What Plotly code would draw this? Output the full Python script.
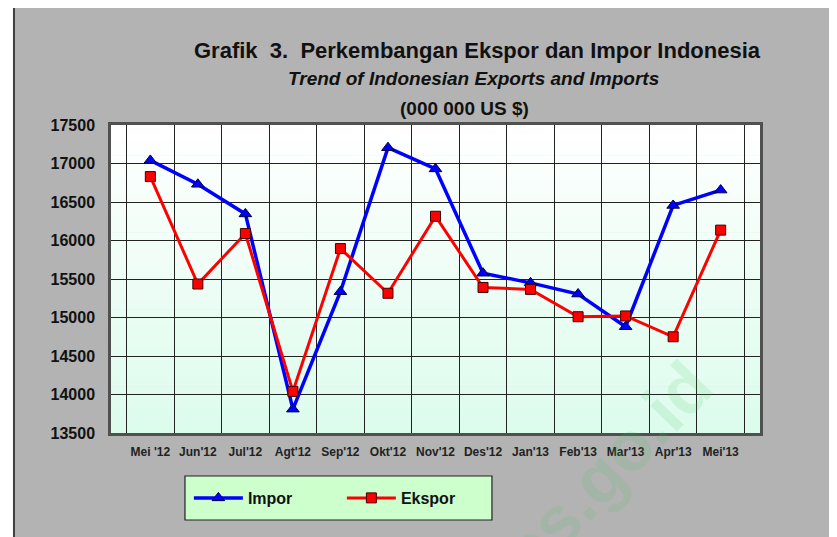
import plotly.graph_objects as go

months = ["Mei '12", "Jun'12", "Jul'12", "Agt'12", "Sep'12", "Okt'12", "Nov'12",
          "Des'12", "Jan'13", "Feb'13", "Mar'13", "Apr'13", "Mei'13"]
impor = [17040, 16730, 16345, 13810, 15335, 17205, 16930,
         15575, 15450, 15305, 14880, 16455, 16655]
ekspor = [16830, 15435, 16090, 14040, 15895, 15315, 16315,
          15390, 15365, 15010, 15020, 14750, 16135]

FONT = "Liberation Sans, Arial, sans-serif"

fig = go.Figure()
fig.add_trace(go.Scatter(
    x=months, y=impor, name="<b>Impor</b>", mode="lines+markers",
    line=dict(color="#0000ff", width=3.5),
    marker=dict(symbol="triangle-up", size=11, color="#0000ff",
                line=dict(color="#000040", width=1))))
fig.add_trace(go.Scatter(
    x=months, y=ekspor, name="<b>Ekspor</b>", mode="lines+markers",
    line=dict(color="#ff0000", width=3),
    marker=dict(symbol="square", size=10, color="#ff0000",
                line=dict(color="#400000", width=1))))

shapes = []
# outer frame
shapes.append(dict(type="rect", xref="paper", yref="paper", x0=-0.1495, x1=1.3,
                   y0=-0.6, y1=1.393, fillcolor="#b3b3b3",
                   line=dict(color="#404040", width=2), layer="below"))
# legend box
shapes.append(dict(type="rect", xref="paper", yref="paper", x0=0.114, x1=0.587,
                   y0=-0.2825, y1=-0.1396, fillcolor="#ccffcc",
                   line=dict(color="#222222", width=1.2), layer="below"))
# gradient plot background
N = 40
top = (255, 255, 255)
bot = (220, 252, 236)
for i in range(N):
    t = (i + 0.5) / N
    c = tuple(int(round(top[k] + (bot[k] - top[k]) * t)) for k in range(3))
    shapes.append(dict(type="rect", xref="x domain", yref="y domain",
                       x0=0, x1=1, y0=1 - (i + 1) / N, y1=1 - i / N + 0.002,
                       fillcolor="rgb(%d,%d,%d)" % c, line=dict(width=0),
                       layer="below"))

annotations = [
    dict(text="<b>Grafik  3.  Perkembangan Ekspor dan Impor Indonesia</b>",
         x=0.564, y=1.289, xref="paper", yref="paper", showarrow=False,
         font=dict(family=FONT, size=22, color="#111111")),
    dict(text="<b><i>Trend of Indonesian Exports and Imports</i></b>",
         x=0.558, y=1.192, xref="paper", yref="paper", showarrow=False,
         font=dict(family=FONT, size=19, color="#111111")),
    dict(text="<b>(000 000 US $)</b>",
         x=0.544, y=1.094, xref="paper", yref="paper", showarrow=False,
         font=dict(family=FONT, size=19, color="#111111")),
    dict(text="<b>bps.go.id</b>", x=0.955, y=-0.63, xref="paper", yref="paper",
         showarrow=False, textangle=-46,
         font=dict(family=FONT, size=70, color="rgba(70,200,100,0.14)")),
]

fig.update_layout(
    width=837, height=537,
    margin=dict(l=103, r=85, t=117, b=112),
    paper_bgcolor="#ffffff", plot_bgcolor="rgba(0,0,0,0)",
    shapes=shapes, annotations=annotations,
    showlegend=True,
    legend=dict(orientation="h", x=0.12, y=-0.211, xanchor="left", yanchor="middle",
                bgcolor="rgba(0,0,0,0)", borderwidth=0,
                font=dict(family=FONT, size=16, color="#111111"),
                itemwidth=49, entrywidth=89, entrywidthmode="pixels",
                itemsizing="trace"),
    font=dict(family=FONT, color="#111111"),
)
fig.update_xaxes(type="category", tickson="boundaries", showgrid=True,
                 gridcolor="#222222", gridwidth=1.2, showline=True, mirror=True,
                 linecolor="#505050", linewidth=2.5, ticks="", tickangle=0,
                 automargin=False,
                 tickfont=dict(family=FONT, size=12, color="#222222"),
                 tickprefix="<b>", ticksuffix="</b>", ticklabelstandoff=6)
fig.update_yaxes(range=[13500, 17500], dtick=500, showgrid=True,
                 gridcolor="#222222", gridwidth=1.2, showline=True, mirror=True,
                 linecolor="#505050", linewidth=2.5, ticks="", zeroline=False,
                 automargin=False,
                 tickfont=dict(family=FONT, size=16, color="#111111"),
                 tickprefix="<b>", ticksuffix="</b>", ticklabelstandoff=10,
                 tickformat="d")

fig.write_html("out.html")
